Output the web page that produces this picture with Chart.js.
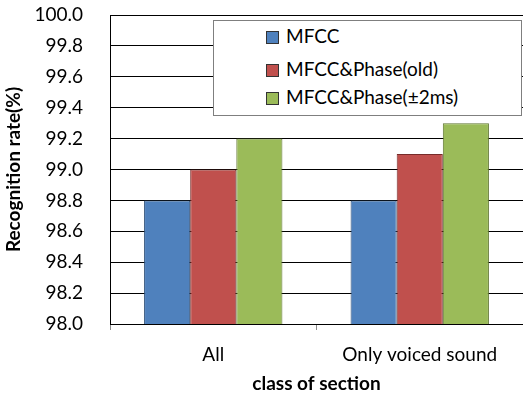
<!DOCTYPE html>
<html lang="en">
<head>
  <meta charset="utf-8">
  <title>Recognition rate</title>
  <script src="https://cdn.jsdelivr.net/npm/chart.js"></script>
  <style>
    html, body { margin: 0; padding: 0; background: #fff; }
    #wrap { position: relative; width: 523px; height: 397px; }
    #legend {
      position: absolute; left: 213px; top: 20px; width: 307px; height: 94px;
      background: #fff; border: 1px solid #7f7f7f;
      font-family: Lato, "Open Sans", sans-serif; font-size: 19px; color: #000;
      box-sizing: content-box;
    }
    #legend div { position: absolute; left: 52px; height: 22px; line-height: 22px; white-space: nowrap; }
    #legend span { display: inline-block; width: 11px; height: 11px; margin-right: 7px; vertical-align: -1px; border: 1px solid #333; }
  </style>
</head>
<body>
<div id="wrap">
  <canvas id="chart" width="523" height="397"></canvas>
  <div id="legend"></div>
</div>
<script>
// categories and series
const categories = ['All', 'Only voiced sound'];
const seriesNames = ['MFCC', 'MFCC&Phase(old)', 'MFCC&Phase(\u00b12ms)'];
const mfcc = [98.8, 98.8];
const phaseOld = [99.0, 99.1];
const phase2ms = [99.2, 99.3];
const colors = ['#4f81bd', '#c0504d', '#9bbb59'];
const borders = ['#2c4d75', '#772c2a', '#5f7530'];

const values = [mfcc, phaseOld, phase2ms];

// legend (html, drawn over the grid like the excel box)
const legend = document.getElementById('legend');
const rowTops = [4, 37, 65];
seriesNames.forEach(function (name, i) {
  const row = document.createElement('div');
  row.style.top = rowTops[i] + 'px';
  const sw = document.createElement('span');
  sw.style.background = colors[i];
  row.appendChild(sw);
  row.appendChild(document.createTextNode(name));
  legend.appendChild(row);
});

const font = "Lato, 'Open Sans', sans-serif";

new Chart(document.getElementById('chart'), {
  type: 'bar',
  data: {
    labels: categories,
    datasets: seriesNames.map(function (name, i) {
      return {
        label: name,
        data: values[i],
        backgroundColor: colors[i],
        borderColor: borders[i],
        borderWidth: 1,
        categoryPercentage: 0.67,
        barPercentage: 1.0
      };
    })
  },
  options: {
    responsive: false,
    animation: false,
    layout: { padding: { top: 15, right: 0, left: 0, bottom: 0 } },
    plugins: {
      legend: { display: false },
      tooltip: { enabled: false }
    },
    scales: {
      x: {
        grid: { display: true, drawOnChartArea: false, offset: true, tickLength: 6, color: '#8c8c8c' },
        border: { color: '#000', width: 1 },
        ticks: { color: '#000', font: { family: font, size: 19 }, padding: 13 },
        title: { display: true, text: 'class of section', color: '#000', font: { family: font, size: 19, weight: 'bold' }, padding: { top: 5, bottom: 2 } },
        afterFit: function (s) { s.height = 73; s.paddingLeft = 0; s.paddingRight = 0; }
      },
      y: {
        min: 98.0,
        max: 100.0,
        grid: { color: '#000', lineWidth: 1, drawTicks: false },
        border: { color: '#000', width: 1 },
        ticks: {
          stepSize: 0.2,
          color: '#000',
          font: { family: font, size: 19 },
          padding: 27,
          callback: function (v) { return Number(v).toFixed(1); }
        },
        title: { display: true, text: 'Recognition rate(%)', color: '#000', font: { family: font, size: 19, weight: 'bold' }, padding: { top: 2, bottom: 0 } },
        afterFit: function (s) { s.width = 110; s.paddingTop = 0; s.paddingBottom = 0; }
      }
    }
  }
});
</script>
</body>
</html>
